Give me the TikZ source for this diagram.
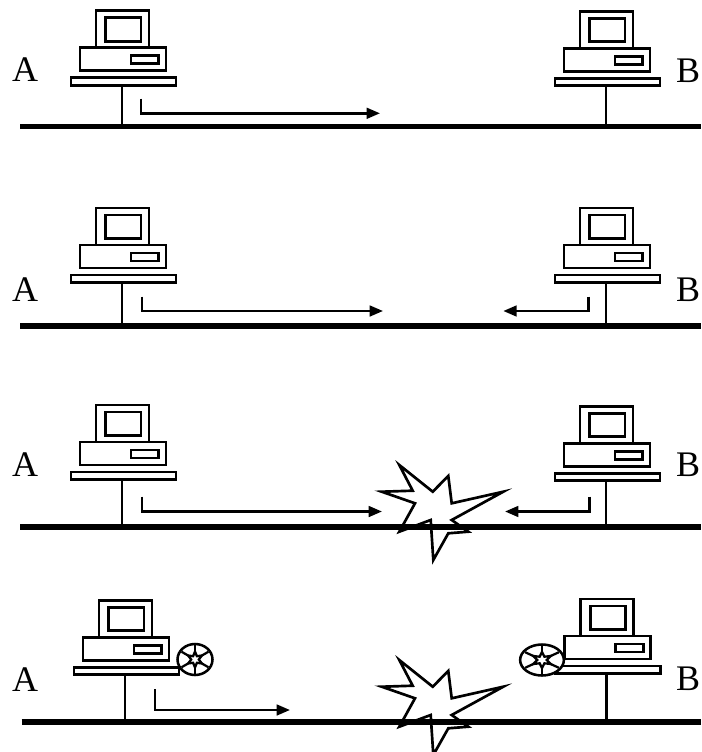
\documentclass[tikz,border=0pt]{standalone}
\usepackage{fontspec}
\setmainfont{Liberation Serif}
\usetikzlibrary{arrows.meta}

\begin{document}
\begin{tikzpicture}[x=0.75pt,y=-0.75pt,
  outline/.style={line width=2.2pt, line join=miter},
  bus/.style={line width=4pt},
  signal/.style={line width=1.9pt, -{Triangle[length=10pt,width=8pt]}},
  station/.style={font=\fontsize{27}{27}\selectfont, inner sep=0pt},
  computer/.pic={
    % shelf, system unit, drive slot, monitor, screen
    \draw[outline,fill=white] (-51,0) rectangle (54,7.5);
    \draw[outline,fill=white] (-42,-30) rectangle (44,-7);
    \draw[outline] (9,-22) rectangle (36.5,-14);
    \draw[outline,fill=white] (-26,-67) rectangle (27,-30);
    \draw[outline] (-16.5,-60) rectangle (19,-36.5);
  },
  burst/.pic={
    \draw[line width=2pt, fill=white, line join=miter]
      (-33.7,-62) -- (-0.3,-35.3) -- (15.3,-51) -- (18.7,-23.7)
      -- (70.3,-35.3) -- (18.7,-7) -- (35.3,4.7) -- (15.3,6.3)
      -- (0.3,33) -- (-2.3,-7) -- (-33.7,4.7) -- (-18,-23.7)
      -- (-51.3,-35.3) -- (-20.3,-36.3) -- cycle;
  },
  jam/.pic={
    \draw[line width=1.9pt, fill=white] (0,0) ellipse [x radius=17.5, y radius=15.5];
    \draw[line width=1.7pt, line join=miter]
      (90:8) -- (120:3.8) -- (150:8) -- (180:3.8) -- (210:8) -- (240:3.8)
      -- (270:8) -- (300:3.8) -- (330:8) -- (0:3.8) -- (30:8) -- (60:3.8) -- cycle;
    \foreach \a in {30,90,...,330} \draw[line width=1.7pt] (\a:8) -- (\a:15.5);
  }]

\useasboundingbox (0,0) rectangle (701,752);

% ---------- row 1: A sends ----------
\coordinate (bus1w) at (20,126.5);
\coordinate (bus1e) at (701,126.5);
\pic at (122,77.8) {computer};
\pic at (606,78.3) {computer};
\coordinate (A1s) at (122,85.3);
\coordinate (A1t) at (122,126.5);
\coordinate (B1s) at (606,85.8);
\coordinate (B1t) at (606,126.5);
\draw[outline] (A1s) -- (A1t);
\draw[outline] (B1s) -- (B1t);
\draw[bus] (bus1w) -- (bus1e);
\coordinate (A1u) at (141,98.7);
\coordinate (A1e) at (380,113.3);
\draw[signal] (A1u) |- (A1e);
\node[station] (A1) at (25,70) {A};
\node[station] (B1) at (688,71) {B};

% ---------- row 2: both send ----------
\coordinate (bus2w) at (20,326);
\coordinate (bus2e) at (701,326);
\pic at (122,275) {computer};
\pic at (606,275) {computer};
\coordinate (A2s) at (122,282.5);
\coordinate (A2t) at (122,326);
\coordinate (B2s) at (606,282.5);
\coordinate (B2t) at (606,326);
\draw[outline] (A2s) -- (A2t);
\draw[outline] (B2s) -- (B2t);
\draw[bus] (bus2w) -- (bus2e);
\coordinate (A2u) at (142,296.7);
\coordinate (A2e) at (383,311);
\coordinate (B2u) at (588.3,296.7);
\coordinate (B2e) at (503.3,311);
\draw[signal] (A2u) |- (A2e);
\draw[signal] (B2u) |- (B2e);
\node[station] (A2) at (25,290) {A};
\node[station] (B2) at (688,290) {B};

% ---------- row 3: collision ----------
\coordinate (bus3w) at (20,527);
\coordinate (bus3e) at (701,527);
\pic at (122,472) {computer};
\pic at (606,473.3) {computer};
\coordinate (A3s) at (122,479.5);
\coordinate (A3t) at (122,527);
\coordinate (B3s) at (606,480.8);
\coordinate (B3t) at (606,527);
\draw[outline] (A3s) -- (A3t);
\draw[outline] (B3s) -- (B3t);
\pic at (433,527) {burst};
\draw[bus] (bus3w) -- (bus3e);
\coordinate (A3u) at (142,496.7);
\coordinate (A3e) at (382,511.5);
\coordinate (B3u) at (589.3,496.7);
\coordinate (B3e) at (505,511.5);
\draw[signal] (A3u) |- (A3e);
\draw[signal] (B3u) |- (B3e);
\node[station] (A3) at (25,465) {A};
\node[station] (B3) at (688,465) {B};

% ---------- row 4: jam signal ----------
\coordinate (bus4w) at (21.7,722);
\coordinate (bus4e) at (701,722);
\pic at (125,667.3) {computer};
\pic at (606.7,666) {computer};
\coordinate (A4s) at (125,674.8);
\coordinate (A4t) at (125,722);
\coordinate (B4s) at (606.7,673.5);
\coordinate (B4t) at (606.7,722);
\draw[outline] (A4s) -- (A4t);
\draw[outline] (B4s) -- (B4t);
\pic at (195,659.5) {jam};
\pic[xscale=1.25] at (542,660) {jam};
\pic at (433,722) {burst};
\draw[bus] (bus4w) -- (bus4e);
\coordinate (A4u) at (155,689.3);
\coordinate (A4e) at (290,710);
\draw[signal] (A4u) |- (A4e);
\node[station] (A4) at (25,680) {A};
\node[station] (B4) at (688,679) {B};

\end{tikzpicture}
\end{document}
